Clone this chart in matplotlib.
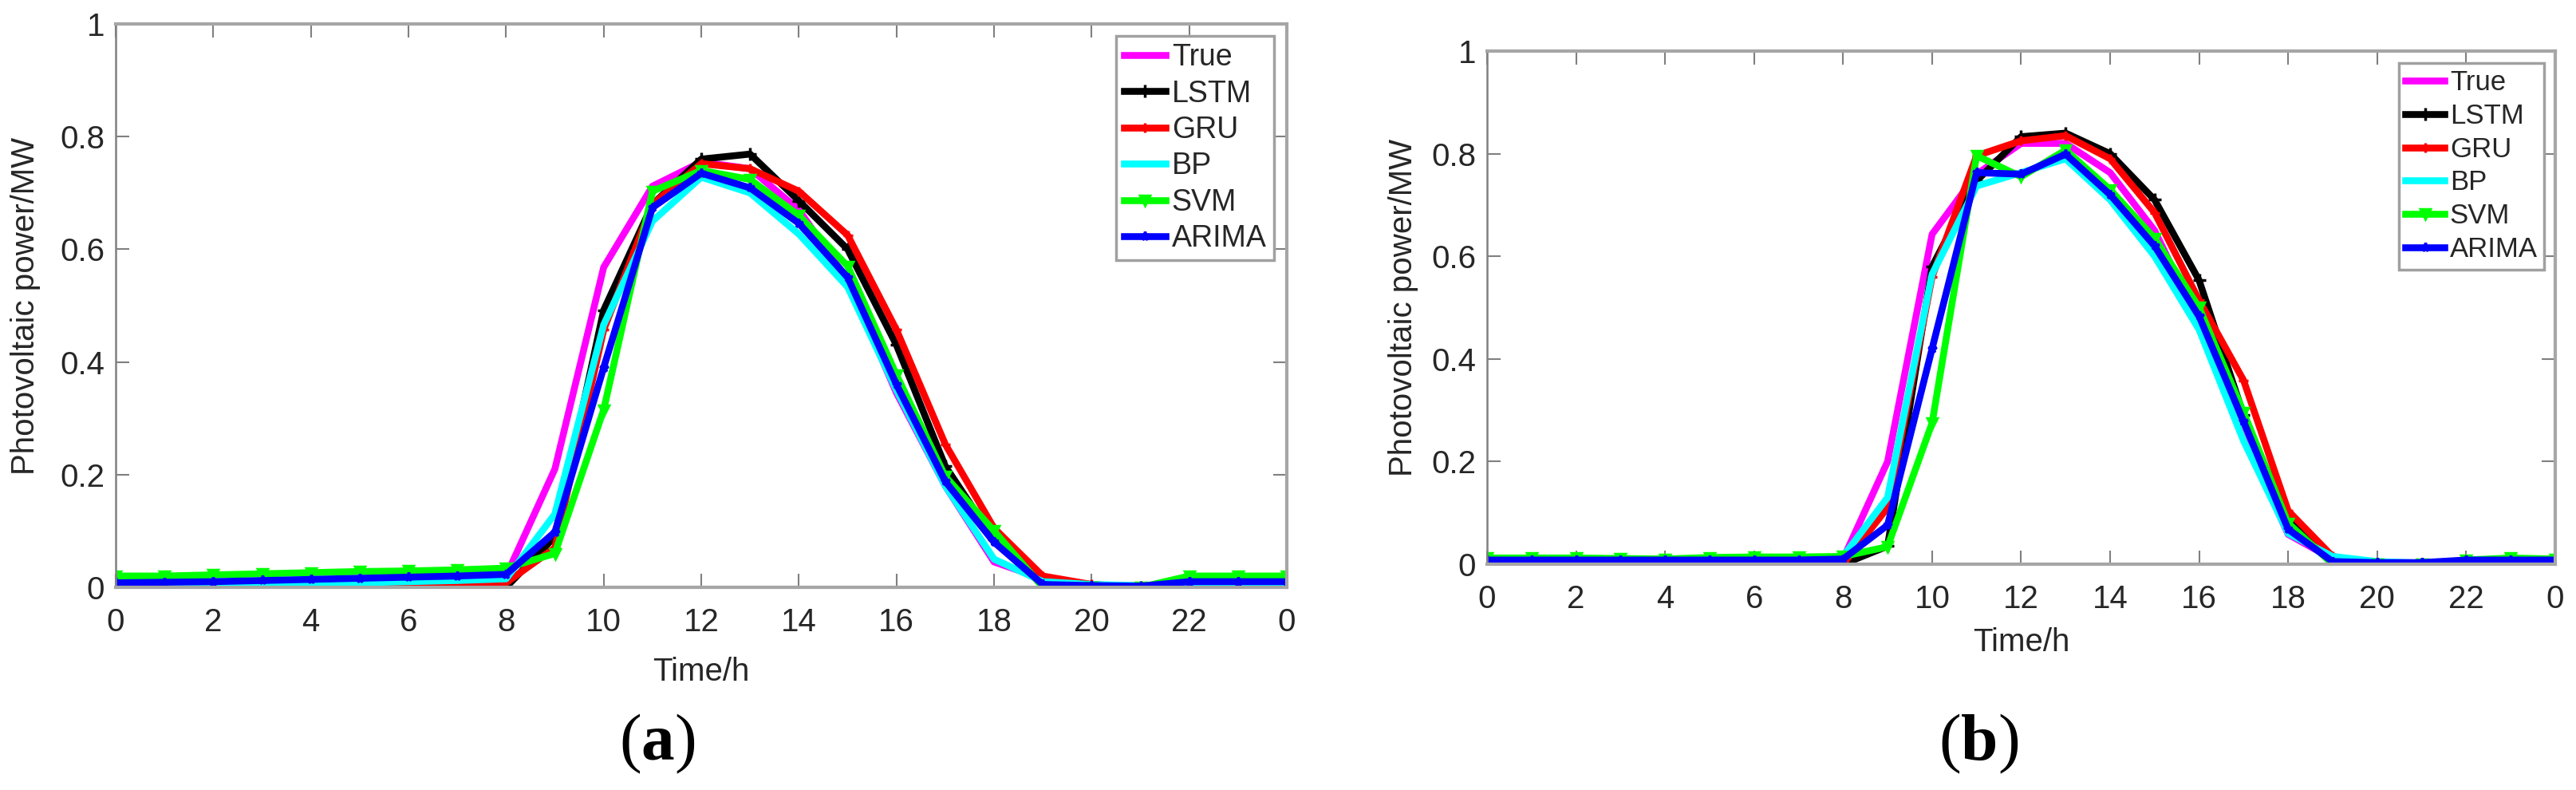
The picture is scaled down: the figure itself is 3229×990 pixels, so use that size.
import numpy as np
import matplotlib
matplotlib.use("Agg")
import matplotlib.pyplot as plt

plt.rcParams['font.family'] = ['Liberation Sans', 'DejaVu Sans']
plt.rcParams['mathtext.fontset'] = 'custom'
plt.rcParams['mathtext.bf'] = 'Liberation Serif:bold'
plt.rcParams['mathtext.rm'] = 'Liberation Serif'

hours = np.arange(0, 25)
xtick_pos = np.arange(0, 25, 2)
xtick_lab = ['0', '2', '4', '6', '8', '10', '12', '14', '16', '18', '20', '22', '0']
ytick_pos = [0, 0.2, 0.4, 0.6, 0.8, 1.0]
ytick_lab = ['0', '0.2', '0.4', '0.6', '0.8', '1']
names = ['True', 'LSTM', 'GRU', 'BP', 'SVM', 'ARIMA']

# panel (a)
a_true = [0, 0, 0, 0, 0, 0, 0, 0, 0.02, 0.21, 0.568, 0.712, 0.755, 0.743, 0.67, 0.545,
          0.345, 0.18, 0.045, 0.015, 0.005, 0, 0.005, 0.005, 0.005]
a_lstm = [0, 0, 0, 0, 0, 0, 0, 0, 0, 0.09, 0.492, 0.68, 0.76, 0.769, 0.686, 0.60,
          0.43, 0.215, 0.085, 0.01, 0, 0, 0, 0, 0]
a_gru = [0, 0, 0, 0, 0, 0.002, 0.004, 0.006, 0.008, 0.07, 0.457, 0.68, 0.752, 0.743, 0.703, 0.625,
         0.457, 0.254, 0.105, 0.02, 0.005, 0, 0, 0, 0]
a_bp = [0, 0.001, 0.002, 0.004, 0.006, 0.008, 0.01, 0.012, 0.015, 0.13, 0.466, 0.65, 0.728, 0.70, 0.627, 0.533,
        0.35, 0.18, 0.05, 0.01, 0.005, 0.003, 0.005, 0.005, 0.005]
a_svm = [0.02, 0.02, 0.022, 0.024, 0.026, 0.028, 0.029, 0.031, 0.034, 0.06, 0.315, 0.703, 0.74, 0.724, 0.66, 0.57,
         0.377, 0.197, 0.10, 0.0, 0.0, 0.0, 0.02, 0.02, 0.02]
a_arima = [0.008, 0.009, 0.01, 0.012, 0.014, 0.016, 0.018, 0.02, 0.023, 0.098, 0.39, 0.674, 0.735, 0.709, 0.646, 0.55,
           0.36, 0.188, 0.08, 0.005, 0.003, 0.002, 0.01, 0.01, 0.01]

# panel (b)
b_true = [0, 0, 0, 0, 0, 0, 0, 0, 0.01, 0.2, 0.643, 0.76, 0.82, 0.82, 0.763, 0.65,
          0.47, 0.25, 0.058, 0.01, 0, 0, 0, 0, 0]
b_lstm = [0, 0, 0, 0, 0, 0, 0, 0, 0, 0.035, 0.58, 0.747, 0.833, 0.84, 0.80, 0.71,
          0.553, 0.29, 0.085, 0.01, 0, 0, 0, 0, 0]
b_gru = [0, 0, 0, 0, 0, 0, 0, 0, 0, 0.11, 0.56, 0.796, 0.825, 0.835, 0.79, 0.685,
         0.514, 0.358, 0.104, 0.015, 0, 0, 0, 0, 0]
b_bp = [0.003, 0.003, 0.003, 0.002, 0.002, 0.003, 0.004, 0.005, 0.015, 0.13, 0.565, 0.737, 0.763, 0.79, 0.71, 0.60,
        0.457, 0.24, 0.06, 0.015, 0.005, 0.002, 0.005, 0.005, 0.005]
b_svm = [0.012, 0.012, 0.012, 0.011, 0.01, 0.013, 0.014, 0.014, 0.015, 0.034, 0.275, 0.796, 0.755, 0.807, 0.73, 0.635,
         0.50, 0.296, 0.08, 0.0, 0, 0, 0.008, 0.012, 0.01]
b_arima = [0.008, 0.008, 0.008, 0.008, 0.008, 0.008, 0.008, 0.008, 0.01, 0.076, 0.42, 0.763, 0.76, 0.799, 0.72, 0.62,
           0.483, 0.278, 0.068, 0.005, 0.003, 0.003, 0.008, 0.008, 0.008]

colors = ['#ff00ff', '#000000', '#ff0000', '#00ffff', '#00ff00', '#0000ff']
markers = ['', '+', '+', '', 'v', '*']
msizes = [0, 12, 8, 0, 8, 8]
txt_col = '#262626'
spine_col = '#a6a6a6'


def draw_panel(ax, series, leg_anchor, leg_size):
    for s, nm, c, m, ms in zip(series, names, colors, markers, msizes):
        ax.plot(hours, s, color=c, lw=6.2, marker=m if m else None, ms=ms, mew=2.5, label=nm)
    ax.set_xlim(0, 24)
    ax.set_ylim(0, 1)
    ax.set_xticks(xtick_pos)
    ax.set_xticklabels(xtick_lab)
    ax.set_yticks(ytick_pos)
    ax.set_yticklabels(ytick_lab)
    ax.tick_params(direction='in', length=12, width=1.5, color='#808080', labelsize=29,
                   labelcolor=txt_col, top=True, right=True)
    ax.tick_params(axis='x', pad=18)
    ax.tick_params(axis='y', pad=10)
    for sp in ax.spines.values():
        sp.set_color(spine_col)
        sp.set_linewidth(3)
    ax.spines['left'].set_color('#808080')
    ax.spines['left'].set_linewidth(1.8)
    ax.set_xlabel('Time/h', fontsize=29, color=txt_col)
    ax.set_ylabel('Photovoltaic power/MW', fontsize=29, color=txt_col)
    ax.xaxis.set_label_coords(0.5, -0.123)
    ax.yaxis.set_label_coords(-0.064, 0.5)
    leg = ax.legend(loc='upper right', bbox_to_anchor=leg_anchor, borderaxespad=0,
                    fontsize=leg_size, handlelength=1.4, handletextpad=0.2, borderpad=0.25,
                    labelspacing=0.25, fancybox=False, framealpha=1, edgecolor='#a0a0a0')
    leg.get_frame().set_linewidth(2.5)
    for t in leg.get_texts():
        t.set_color(txt_col)


fig = plt.figure(figsize=(32.3, 9.9), dpi=100)
ax1 = fig.add_axes([0.0449, 0.2566, 0.4545, 0.7131])
ax2 = fig.add_axes([0.5771, 0.2859, 0.4145, 0.6495])

draw_panel(ax1, [a_true, a_lstm, a_gru, a_bp, a_svm, a_arima], (0.989, 0.979), 27)
draw_panel(ax2, [b_true, b_lstm, b_gru, b_bp, b_svm, b_arima], (0.990, 0.977), 25)

fig.text(0.2551, 0.0586, r'($\mathbf{a}$)', fontsize=60, family='Liberation Serif',
         ha='center', va='center', color='black')
fig.text(0.7678, 0.0586, r'($\mathbf{b}$)', fontsize=60, family='Liberation Serif',
         ha='center', va='center', color='black')

fig.savefig('out.png', dpi=100)
